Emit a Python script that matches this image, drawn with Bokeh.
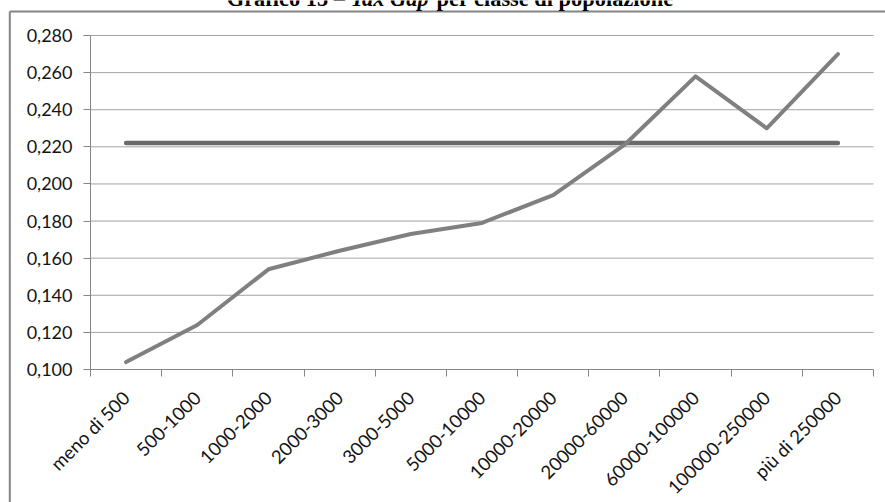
import math
from bokeh.plotting import figure
from bokeh.models import (LinearAxis, FixedTicker, CustomJSTickFormatter, Label, Range1d)
from bokeh.embed import file_html
from bokeh.resources import INLINE

# ---- data ----
categories = ["meno di 500", "500-1000", "1000-2000", "2000-3000", "3000-5000",
              "5000-10000", "10000-20000", "20000-60000", "60000-100000",
              "100000-250000", "più di 250000"]
tax_gap = [0.104, 0.124, 0.154, 0.164, 0.173, 0.179, 0.194, 0.221, 0.258, 0.230, 0.270]
media = [0.222, 0.222, 0.222, 0.222, 0.222, 0.222, 0.222, 0.222, 0.222, 0.222, 0.222]
y_ticks = [0.100, 0.120, 0.140, 0.160, 0.180, 0.200, 0.220, 0.240, 0.260, 0.280]
title_parts = ["Grafico 15 – ", "Tax Gap", " per classe di popolazione"]

# ---- layout (canvas pixels) ----
W, H = 885, 502
PL, PR, PT, PB = 90, 873, 35, 369      # plot area of the chart
YMIN, YMAX = y_ticks[0], y_ticks[-1]
n = len(categories)
px_per_cat = (PR - PL) / n
px_per_unit = (PB - PT) / (YMAX - YMIN)

def sx(px):
    return (px - PL) / px_per_cat

def sy(py):
    return YMIN + (PB - py) / px_per_unit

# category positions on the x scale (one unit per category)
xpos = [i + 0.5 for i in range(n)]
bounds = [float(i) for i in range(n + 1)]

p = figure(width=W, height=H,
           x_range=Range1d(sx(0), sx(W)), y_range=Range1d(sy(H), sy(0)),
           x_axis_type=None, y_axis_type=None,
           output_backend="svg", toolbar_location=None,
           min_border_left=0, min_border_right=0, min_border_top=0, min_border_bottom=0)
p.outline_line_color = None
p.background_fill_color = "white"
p.border_fill_color = "white"
p.xgrid.visible = False
p.ygrid.visible = False

# horizontal gridlines across the plot area
p.segment(x0=[bounds[0]] * len(y_ticks), x1=[bounds[-1]] * len(y_ticks),
          y0=y_ticks, y1=y_ticks, line_color="#a3a3a3", line_width=1)

# y axis
yax = LinearAxis(ticker=FixedTicker(ticks=y_ticks, minor_ticks=[]),
                 formatter=CustomJSTickFormatter(
                     code="return tick.toFixed(3).replace('.', ',');"),
                 fixed_location=bounds[0], bounds=(YMIN, YMAX))
yax.axis_line_color = "#868686"
yax.major_tick_line_color = "#868686"
yax.major_tick_out = 7
yax.major_tick_in = 0
yax.minor_tick_line_color = None
yax.major_label_standoff = 11
yax.major_label_text_font = "Lato"
yax.major_label_text_font_size = "18px"
yax.major_label_text_color = "#141414"
p.add_layout(yax, "left")

# x axis: labels at category centres, ticks at category boundaries
xax = LinearAxis(ticker=FixedTicker(ticks=xpos, minor_ticks=bounds),
                 fixed_location=YMIN, bounds=(bounds[0], bounds[-1]))
xax.major_label_overrides = {c: lab for c, lab in zip(xpos, categories)}
xax.axis_line_color = "#868686"
xax.major_tick_line_color = None
xax.major_tick_out = 0
xax.major_tick_in = 0
xax.minor_tick_line_color = "#868686"
xax.minor_tick_out = 7
xax.minor_tick_in = 0
xax.major_label_orientation = math.pi / 4
xax.major_label_standoff = 18
xax.major_label_text_font = "Lato"
xax.major_label_text_font_size = "18.5px"
xax.major_label_text_color = "#141414"
p.add_layout(xax, "below")

# lines
p.line(xpos, media, line_color="#6a6a6a", line_width=4.5,
       line_cap="round", line_join="round")
p.line(xpos, tax_gap, line_color="#808080", line_width=4,
       line_cap="round", line_join="round")

# outer chart border (top and left edges visible)
p.segment(x0=[sx(9.3), sx(9.3)], y0=[sy(11), sy(11)],
          x1=[sx(W + 10), sx(9.3)], y1=[sy(11), sy(H + 10)],
          line_color="#858585", line_width=2)

# title (cut off at the top of the picture)
tfont = "Liberation Serif"
tsize = "22.4px"
base_y = sy(-2.5)
p.add_layout(Label(x=sx(350), y=base_y, text=title_parts[0], text_align="right",
                   text_baseline="alphabetic", text_font=tfont, text_font_size=tsize,
                   text_font_style="bold", text_color="black"))
p.add_layout(Label(x=sx(350), y=base_y, text=title_parts[1], text_align="left",
                   text_baseline="alphabetic", text_font=tfont, text_font_size=tsize,
                   text_font_style="bold italic", text_color="black"))
p.add_layout(Label(x=sx(436), y=base_y, text=title_parts[2], text_align="left",
                   text_baseline="alphabetic", text_font=tfont, text_font_size=tsize,
                   text_font_style="bold", text_color="black"))

open("out.html", "w").write(file_html(p, INLINE))
